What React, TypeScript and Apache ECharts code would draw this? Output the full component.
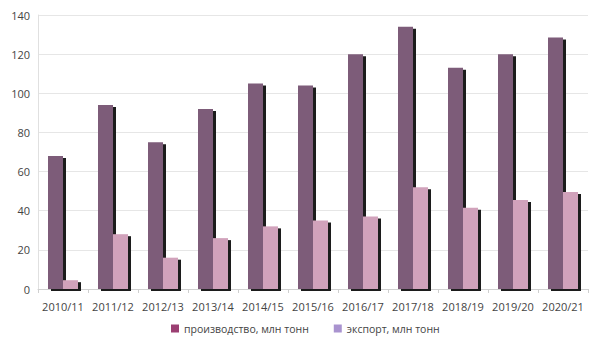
import React, { useEffect, useRef } from "react";
import * as echarts from "echarts";

const categories = ["2010/11", "2011/12", "2012/13", "2013/14", "2014/15", "2015/16", "2016/17", "2017/18", "2018/19", "2019/20", "2020/21"];
const production = [68, 94, 75, 92, 105, 104, 120, 134, 113, 120, 128.5];
const exportVals = [4.5, 28, 16, 26, 32, 35, 37, 52, 41.5, 45.5, 49.5];
const seriesNames = ["производство, млн тонн", "экспорт, млн тонн"];

export default function App() {
  const ref = useRef<HTMLDivElement>(null);
  useEffect(() => {
    document.body.style.margin = "0";
    const chart = echarts.init(ref.current!, null, { renderer: "svg" });
    const font = "'Open Sans', 'DejaVu Sans', sans-serif";
    chart.setOption({
      animation: false,
      backgroundColor: "#ffffff",
      grid: { left: 38, right: 12, top: 15, bottom: 59 },
      legend: {
        bottom: 9,
        left: 166,
        itemWidth: 8,
        itemHeight: 8,
        itemGap: 25,
        icon: "rect",
        textStyle: { fontFamily: font, fontSize: 10.5, color: "#444" },
        data: [
          { name: seriesNames[0], itemStyle: { color: "#9b3f72" } },
          { name: seriesNames[1], itemStyle: { color: "#a993cf" } },
        ],
      },
      xAxis: {
        type: "category",
        data: categories,
        axisLine: { lineStyle: { color: "#d0d0d0" } },
        axisTick: { show: true, length: 4, lineStyle: { color: "#d0d0d0" } },
        axisLabel: { fontFamily: font, fontSize: 11, color: "#444", margin: 12, interval: 0, hideOverlap: false },
      },
      yAxis: {
        type: "value",
        min: 0,
        max: 140,
        interval: 20,
        axisLine: { show: true, lineStyle: { color: "#e0e0e0" } },
        axisTick: { show: false },
        splitLine: { lineStyle: { color: "#e6e6e6" } },
        axisLabel: { fontFamily: font, fontSize: 11, color: "#444", margin: 8 },
      },
      series: [
        {
          name: seriesNames[0],
          type: "bar",
          data: production,
          barGap: "0%",
          barCategoryGap: "40%",
          itemStyle: {
            color: "#7d5b79",
            shadowColor: "#1c1a1c",
            shadowOffsetX: 3,
            shadowOffsetY: 2,
            shadowBlur: 0,
          },
        },
        {
          name: seriesNames[1],
          type: "bar",
          data: exportVals,
          itemStyle: {
            color: "#d1a2bb",
            shadowColor: "#1c1a1c",
            shadowOffsetX: 3,
            shadowOffsetY: 2,
            shadowBlur: 0,
          },
        },
      ],
    });
    return () => chart.dispose();
  }, []);
  return <div ref={ref} style={{ position: "fixed", left: 0, top: 0, width: 600, height: 348 }} />;
}
